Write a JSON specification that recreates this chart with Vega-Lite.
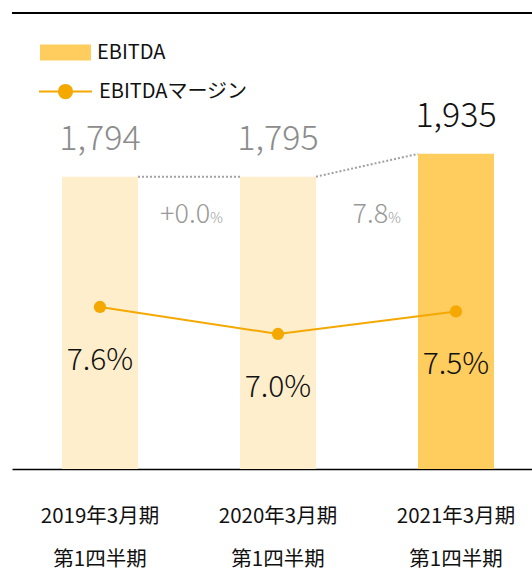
{
  "$schema": "https://vega.github.io/schema/vega-lite/v6.json",
  "width": 520,
  "height": 456,
  "autosize": {"type": "none"},
  "padding": {"left": 12, "top": 13, "right": 0, "bottom": 101},
  "background": "white",
  "config": {
    "view": {"stroke": null},
    "font": "Noto Sans CJK JP",
    "text": {"font": "Noto Sans CJK JP"}
  },
  "datasets": {
    "bars": [
      {"period": "2019年3月期 第1四半期", "ebitda": 1794, "margin": 7.6, "mlabel": "7.6%", "kind": "prev"},
      {"period": "2020年3月期 第1四半期", "ebitda": 1795, "margin": 7.0, "mlabel": "7.0%", "kind": "prev"},
      {"period": "2021年3月期 第1四半期", "ebitda": 1935, "margin": 7.5, "mlabel": "7.5%", "kind": "EBITDA"}
    ],
    "gaps": [
      {"from": "2019年3月期 第1四半期", "to": "2020年3月期 第1四半期", "v1": 1794, "v2": 1795, "pct": "+0.0"},
      {"from": "2020年3月期 第1四半期", "to": "2021年3月期 第1四半期", "v1": 1795, "v2": 1935, "pct": "7.8"}
    ]
  },
  "layer": [
    {
      "layer": [
        {
          "data": {"name": "bars"},
          "mark": {"type": "bar"},
          "encoding": {
            "x": {
              "field": "period", "type": "nominal", "sort": null,
              "scale": {
                "domain": ["2019年3月期 第1四半期", "2020年3月期 第1四半期", "2021年3月期 第1四半期"],
                "paddingInner": 0.573, "paddingOuter": 0.247, "align": 0.568
              },
              "axis": {
                "title": null, "labelAngle": 0, "ticks": false, "grid": false,
                "domainColor": "#000000", "domainWidth": 1.5,
                "labelFontSize": 20.5, "labelColor": "#111111", "labelFont": "Noto Sans CJK JP",
                "labelExpr": "split(datum.label, ' ')", "labelLineHeight": 43,
                "labelPadding": 37
              }
            },
            "y": {"field": "ebitda", "type": "quantitative", "scale": {"domain": [0, 2800], "nice": false}, "axis": null},
            "fill": {
              "field": "kind", "type": "nominal",
              "scale": {"domain": ["EBITDA", "prev"], "range": ["#FFCC5E", "#FFEECB"]},
              "legend": {
                "orient": "none", "legendX": 28, "legendY": 14, "title": null,
                "values": ["EBITDA"],
                "symbolType": "M-1,-0.31H1V0.31H-1Z", "symbolSize": 2601, "symbolStrokeWidth": 0,
                "labelFontSize": 20, "labelColor": "#111111", "labelFont": "Noto Sans CJK JP", "labelOffset": 6
              }
            }
          }
        },
        {
          "data": {"name": "bars"},
          "mark": {"type": "text", "baseline": "alphabetic", "dy": -27, "fontSize": 34, "fontWeight": 300},
          "encoding": {
            "x": {"field": "period", "type": "nominal", "sort": null},
            "y": {"field": "ebitda", "type": "quantitative"},
            "text": {"field": "ebitda", "type": "quantitative", "format": ","},
            "color": {"condition": {"test": "datum.kind === 'prev'", "value": "#8c8c8c"}, "value": "#111111"}
          }
        },
        {
          "data": {"name": "gaps"},
          "mark": {"type": "rule", "stroke": "#a0a0a0", "strokeWidth": 2, "strokeDash": [2, 2]},
          "encoding": {
            "x": {"field": "from", "type": "nominal", "bandPosition": 1},
            "x2": {"field": "to", "bandPosition": 0},
            "y": {"field": "v1", "type": "quantitative"},
            "y2": {"field": "v2"}
          }
        },
        {
          "data": {"name": "gaps"},
          "mark": {"type": "text", "align": "right", "baseline": "alphabetic", "dy": 46, "fontSize": 27, "fontWeight": 300, "color": "#999999"},
          "encoding": {
            "x": {"field": "from", "type": "nominal", "bandPosition": 1.95},
            "y": {"field": "v1", "type": "quantitative"},
            "text": {"field": "pct"}
          }
        },
        {
          "data": {"name": "gaps"},
          "mark": {"type": "text", "align": "left", "baseline": "alphabetic", "dy": 46, "fontSize": 14, "fontWeight": 300, "color": "#999999"},
          "encoding": {
            "x": {"field": "from", "type": "nominal", "bandPosition": 1.95},
            "y": {"field": "v1", "type": "quantitative"},
            "text": {"value": "%"}
          }
        },
        {
          "data": {"name": "bars"},
          "mark": {"type": "rule", "stroke": "#000000", "strokeWidth": 2},
          "encoding": {"y": {"datum": 2800}}
        }
      ]
    },
    {
      "layer": [
        {
          "data": {"name": "bars"},
          "mark": {"type": "line", "strokeWidth": 2},
          "encoding": {
            "x": {"field": "period", "type": "nominal", "sort": null},
            "y": {"field": "margin", "type": "quantitative", "scale": {"domain": [4, 14.133], "nice": false, "zero": false}, "axis": null},
            "stroke": {
              "datum": "EBITDAマージン",
              "scale": {"range": ["#F5A800"]},
              "legend": {
                "orient": "none", "legendX": 26, "legendY": 51, "title": null,
                "symbolType": "M-1,0H1M-0.25,0A0.25,0.25 0 1,1 0.25,0A0.25,0.25 0 1,1 -0.25,0Z",
                "symbolSize": 2809, "symbolStrokeWidth": 2,
                "labelFontSize": 20, "labelColor": "#111111", "labelFont": "Noto Sans CJK JP", "labelOffset": 6,
                "encode": {"symbols": {"update": {"fill": {"value": "#F5A800"}, "stroke": {"value": "#F5A800"}}}}
              }
            }
          }
        },
        {
          "data": {"name": "bars"},
          "mark": {"type": "point", "filled": true, "size": 150, "color": "#F5A800", "opacity": 1},
          "encoding": {
            "x": {"field": "period", "type": "nominal", "sort": null},
            "y": {"field": "margin", "type": "quantitative"}
          }
        },
        {
          "data": {"name": "bars"},
          "mark": {"type": "text", "baseline": "alphabetic", "dy": 63, "fontSize": 30, "fontWeight": 300, "color": "#111111"},
          "encoding": {
            "x": {"field": "period", "type": "nominal", "sort": null},
            "y": {"field": "margin", "type": "quantitative"},
            "text": {"field": "mlabel"}
          }
        }
      ]
    }
  ],
  "resolve": {"scale": {"y": "independent"}}
}
